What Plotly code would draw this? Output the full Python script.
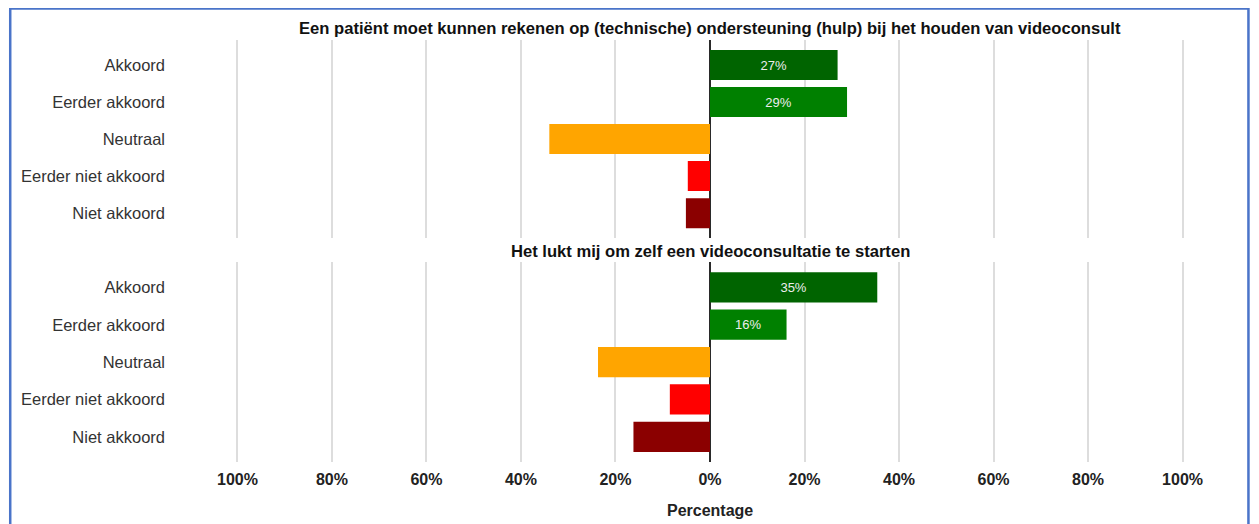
import plotly.graph_objects as go
from plotly.subplots import make_subplots

categories = ["Akkoord", "Eerder akkoord", "Neutraal", "Eerder niet akkoord", "Niet akkoord"]
titles = [
    "Een patiënt moet kunnen rekenen op (technische) ondersteuning (hulp) bij het houden van videoconsult",
    "Het lukt mij om zelf een videoconsultatie te starten",
]
# signed percentages (disagree/neutral shown to the left)
values_q1 = [27, 29, -34, -4.7, -5.1]
values_q2 = [35.4, 16.2, -23.7, -8.5, -16.2]
labels_q1 = ["27%", "29%", "", "", ""]
labels_q2 = ["35%", "16%", "", "", ""]
colors = ["#006400", "#008000", "#FFA500", "#FF0000", "#8B0000"]
tick_vals = [-100, -80, -60, -40, -20, 0, 20, 40, 60, 80, 100]
tick_text = ["100%", "80%", "60%", "40%", "20%", "0%", "20%", "40%", "60%", "80%", "100%"]

OFF = 8  # browser body margin
W, H = 1259 - OFF, 516
ml = 227.5 - OFF
mr = W - (1192.5 - OFF)
mt = 40 - OFF
mb = H - (461.7 - OFF)
pw = W - ml - mr
ph = H - mt - mb


def px_x(p):
    return (p - OFF - ml) / pw


def px_y(p):
    return (H - mb - (p - OFF)) / ph


fig = make_subplots(rows=2, cols=1, shared_xaxes=False, vertical_spacing=0.0)

for i, (vals, labs) in enumerate([(values_q1, labels_q1), (values_q2, labels_q2)]):
    fig.add_trace(
        go.Bar(
            y=categories, x=vals, orientation="h",
            marker=dict(color=colors, line=dict(width=0)),
            text=labs, textposition="inside", insidetextanchor="middle",
            textfont=dict(color="#EDEDED", size=13, family="Liberation Sans, Arial"),
            showlegend=False, hoverinfo="x+y",
        ),
        row=i + 1, col=1,
    )

fig.update_layout(
    width=W, height=H,
    margin=dict(l=ml, r=mr, t=mt, b=mb, autoexpand=False),
    paper_bgcolor="white", plot_bgcolor="white",
    bargap=0.19,
    font=dict(family="Liberation Sans, Arial", color="#333"),
    yaxis=dict(domain=[px_y(238), 1.0]),
    yaxis2=dict(domain=[0.0, px_y(262)]),
)

for ax in ["xaxis", "xaxis2"]:
    fig.layout[ax].update(
        range=[-102, 102], tickvals=tick_vals, ticktext=tick_text,
        showgrid=True, gridcolor="#DDDDDD", gridwidth=1.5,
        zeroline=True, zerolinecolor="#2A2A2A", zerolinewidth=1.5,
        showline=False, ticks="", automargin=False,
        tickfont=dict(size=16, color="#222", family="Liberation Sans, Arial", weight="bold"),
    )
fig.layout.xaxis.showticklabels = False
fig.layout.xaxis2.ticklabelstandoff = 6

for ax in ["yaxis", "yaxis2"]:
    fig.layout[ax].update(
        categoryorder="array", categoryarray=categories[::-1],
        range=[-0.675, 4.675],
        showgrid=False, zeroline=False, showline=False, ticks="", automargin=False,
        tickfont=dict(size=16.5, color="#333"), ticklabelstandoff=62,
    )

fig.add_annotation(text="<b>" + titles[0] + "</b>", xref="paper", yref="paper",
                   x=0.5, y=px_y(29), showarrow=False,
                   font=dict(size=16.6, color="#111"), xanchor="center", yanchor="middle")
fig.add_annotation(text="<b>" + titles[1] + "</b>", xref="paper", yref="paper",
                   x=0.5, y=px_y(251), showarrow=False,
                   font=dict(size=16.6, color="#111"), xanchor="center", yanchor="middle")
# x-axis title
fig.add_annotation(text="<b>Percentage</b>", xref="paper", yref="paper",
                   x=0.5, y=px_y(510), showarrow=False,
                   font=dict(size=16, color="#222"), xanchor="center", yanchor="middle")

# blue outer frame
fig.add_shape(type="rect", xref="paper", yref="paper",
              x0=px_x(9.5), x1=px_x(1249),
              y0=px_y(540), y1=px_y(8.5),
              line=dict(color="#4A74C9", width=2.5), fillcolor="rgba(0,0,0,0)", layer="above")

fig.write_html("out.html")
